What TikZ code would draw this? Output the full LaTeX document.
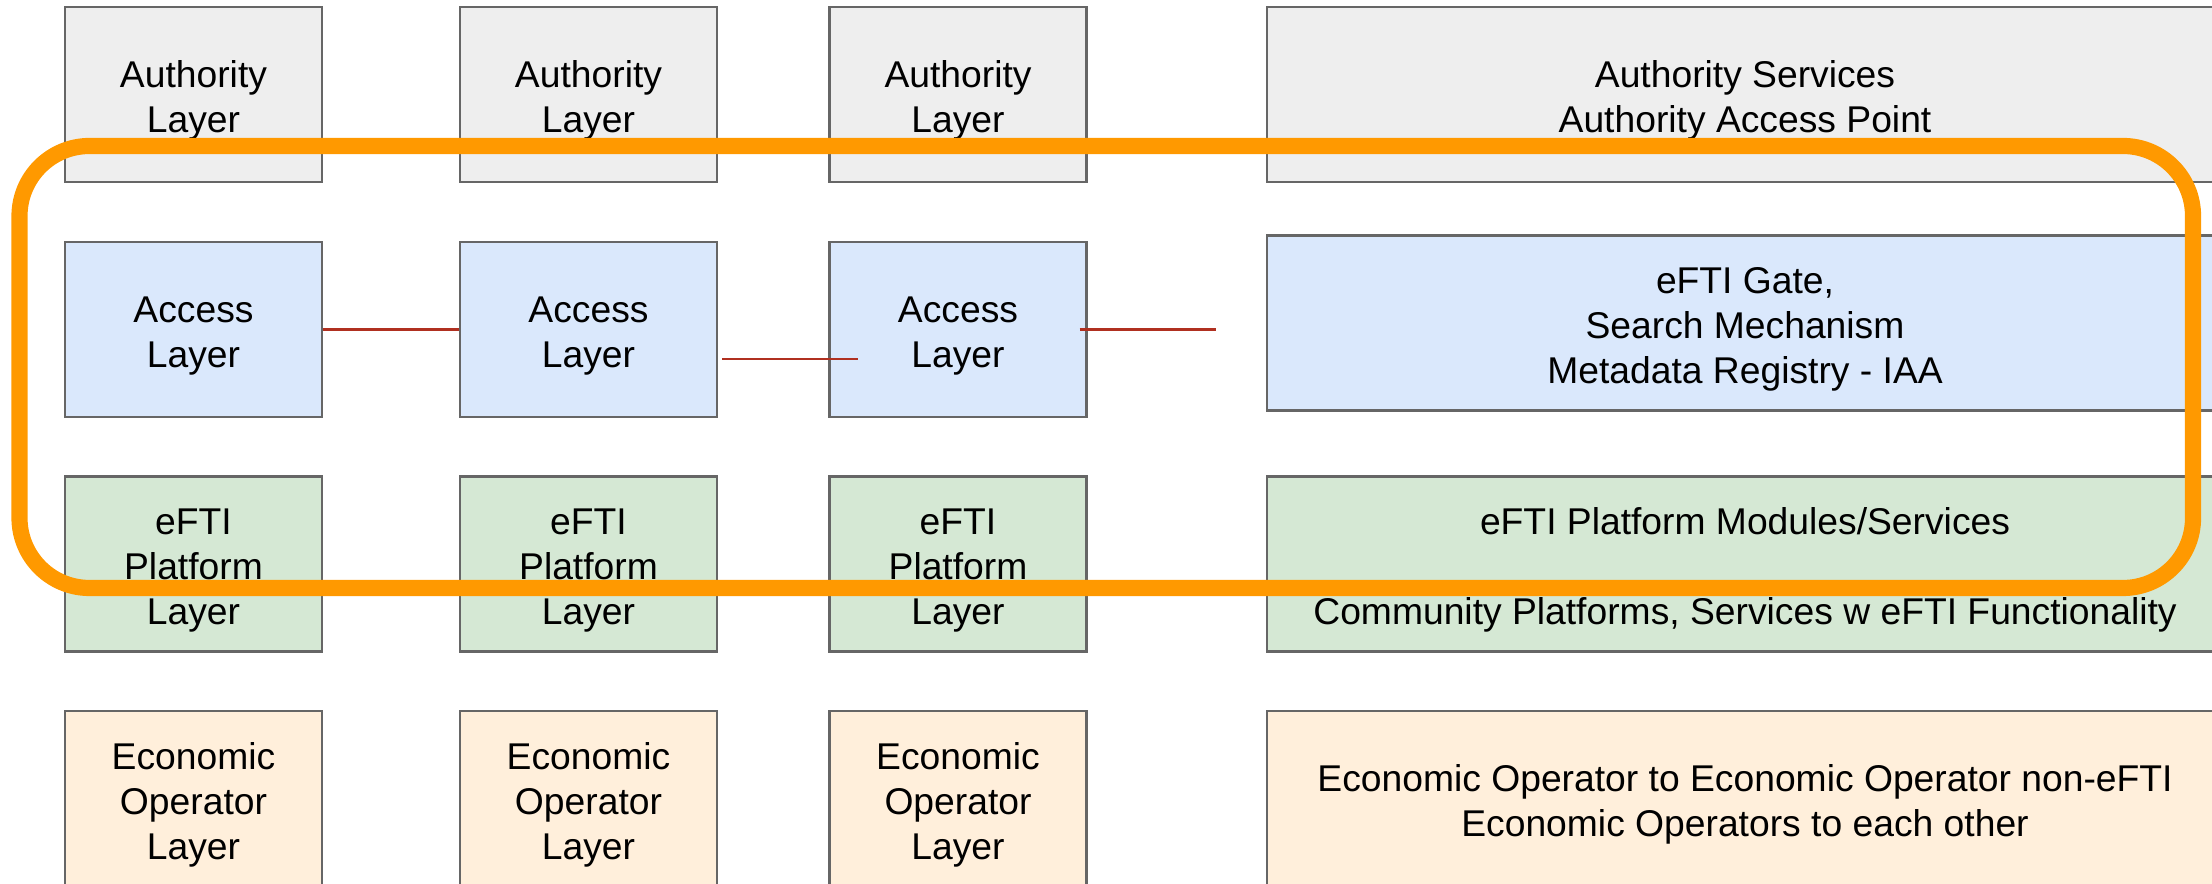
\documentclass[tikz,border=0pt]{standalone}
\usepackage{fontspec}
\setmainfont{Liberation Sans}
\definecolor{authgrey}{HTML}{EEEEEE}
\definecolor{accblue}{HTML}{DAE8FC}
\definecolor{platgreen}{HTML}{D5E8D4}
\definecolor{ecocream}{HTML}{FFEFDB}
\definecolor{boxline}{HTML}{666666}
\definecolor{linkred}{RGB}{176,48,32}
\definecolor{ringorange}{RGB}{255,153,0}
\newcommand\lift{\rule{0pt}{0.39cm}}

\begin{document}
\begin{tikzpicture}[
  lay/.style={draw=boxline, line width=0.6pt, minimum width=2.57cm,
    minimum height=1.75cm, inner sep=0pt, align=center,
    font=\fontsize{10.6}{12.8}\selectfont},
  wide/.style={lay, minimum width=9.56cm},
  link/.style={draw=linkred, line width=0.6pt},
  ring/.style={draw=ringorange, line width=4.6pt, rounded corners=0.7cm}
]
\useasboundingbox (0,0) rectangle (22.12,8.84);
\clip (0,0) rectangle (22.12,8.84);

% authority layer
\node [lay, fill=authgrey] (auth1) at (1.935,7.895) {\lift Authority\\Layer};
\node [lay, fill=authgrey] (auth2) at (5.885,7.895) {\lift Authority\\Layer};
\node [lay, fill=authgrey] (auth3) at (9.58,7.895) {\lift Authority\\Layer};
\node [wide, fill=authgrey] (authsrv) at (17.45,7.895)
  {\lift Authority Services\\Authority Access Point};

% access layer
\node [lay, fill=accblue] (acc1) at (1.935,5.545) {\lift Access\\Layer};
\node [lay, fill=accblue] (acc2) at (5.885,5.545) {\lift Access\\Layer};
\node [lay, fill=accblue] (acc3) at (9.58,5.545) {\lift Access\\Layer};
\node [wide, fill=accblue] (gate) at (17.45,5.61)
  {\lift eFTI Gate,\\Search Mechanism\\Metadata Registry - IAA};

% eFTI platform layer
\node [lay, fill=platgreen] (plat1) at (1.935,3.20) {\lift eFTI\\Platform\\Layer};
\node [lay, fill=platgreen] (plat2) at (5.885,3.20) {\lift eFTI\\Platform\\Layer};
\node [lay, fill=platgreen] (plat3) at (9.58,3.20) {\lift eFTI\\Platform\\Layer};
\node [wide, fill=platgreen] (modules) at (17.45,3.20)
  {\lift eFTI Platform Modules/Services\\[12.8pt]Community Platforms, Services w eFTI Functionality};

% economic operator layer
\node [lay, fill=ecocream] (eco1) at (1.935,0.855) {\lift Economic\\Operator\\Layer};
\node [lay, fill=ecocream] (eco2) at (5.885,0.855) {\lift Economic\\Operator\\Layer};
\node [lay, fill=ecocream] (eco3) at (9.58,0.855) {\lift Economic\\Operator\\Layer};
\node [wide, fill=ecocream] (ecoall) at (17.45,0.855)
  {\lift Economic Operator to Economic Operator non-eFTI\\Economic Operators to each other};

% links between the access layers
\coordinate (l2a) at ([xshift=0.04cm,yshift=-0.295cm]acc2.east);
\coordinate (l2b) at ([xshift=0.30cm,yshift=-0.295cm]acc3.west);
\coordinate (l3a) at ([xshift=-0.08cm]acc3.east);
\coordinate (l3b) at ([xshift=-0.50cm]acc3.east -| gate.west);

\draw [link] (acc1.east)--(acc2.west);
\draw [link] (l2a)--(l2b);
\draw [link] (l3a)--(l3b);

% orange frame round access and platform layers
\draw [ring] (0.195,2.96) rectangle (21.93,7.38);

\end{tikzpicture}
\end{document}
